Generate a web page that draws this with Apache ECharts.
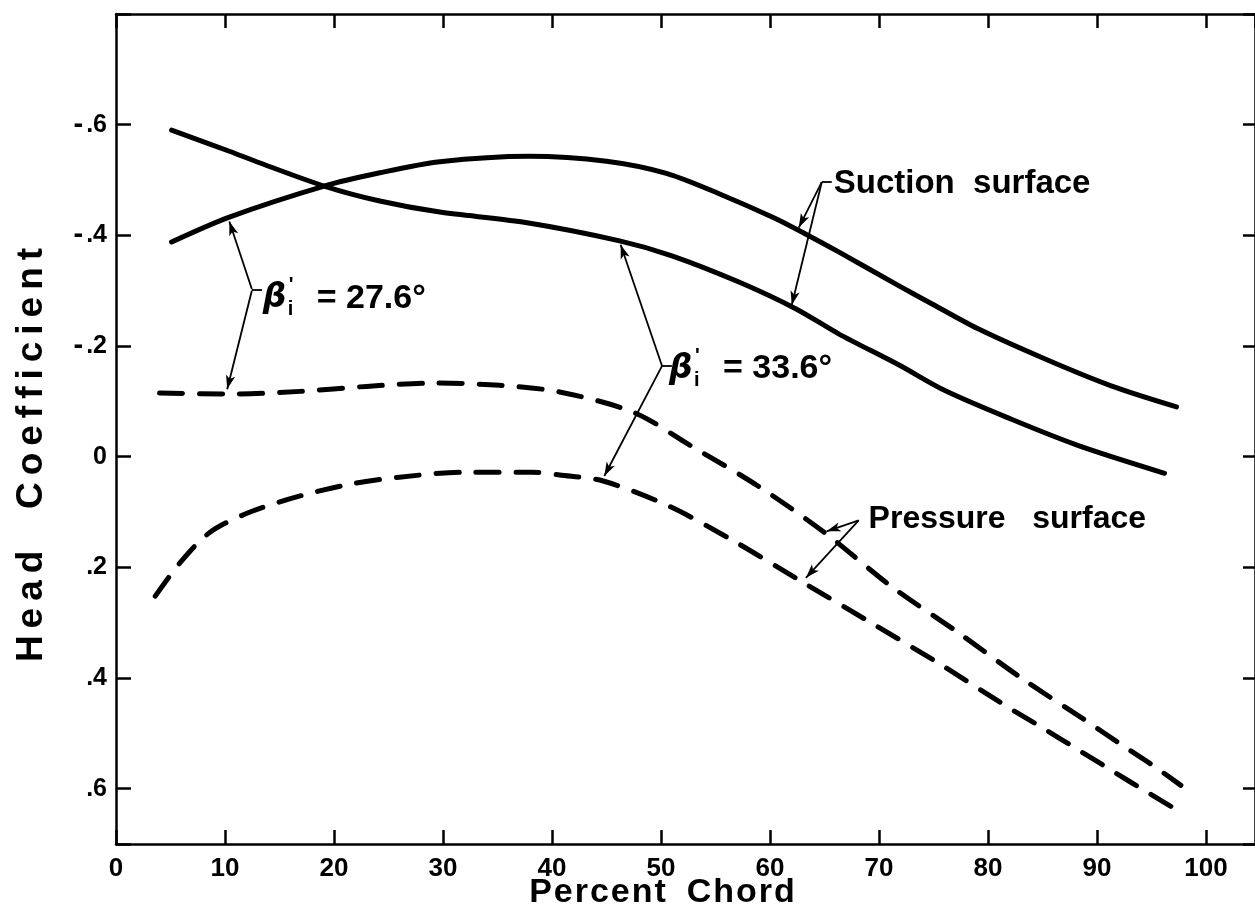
<!DOCTYPE html>
<html><head><meta charset="utf-8">
<script src="https://cdn.jsdelivr.net/npm/echarts@6/dist/echarts.min.js"></script>
<style>html,body{margin:0;padding:0;background:#fff}#c{width:1255px;height:921px}</style>
</head><body><div id="c"></div>
<script>
// ---- data ----
const xTickValues = [0,10,20,30,40,50,60,70,80,90,100];
const xTickLabels = ['0','10','20','30','40','50','60','70','80','90','100'];
const yTickValues = [-0.6,-0.4,-0.2,0,0.2,0.4,0.6];
const yTickLabels = ['-.6','-.4','-.2','0','.2','.4','.6'];

// Suction surface, beta = 27.6 deg
const suc276_x = [5.1,10.4,19.1,24.2,29.7,37.9,45.0,50.5,55.6,60.2,63.3,66.3,71.8,74.5,79.1,85.3,91.3,97.3];
const suc276_y = [-0.388,-0.433,-0.489,-0.513,-0.533,-0.543,-0.534,-0.512,-0.473,-0.433,-0.402,-0.370,-0.309,-0.280,-0.231,-0.176,-0.128,-0.090];
// Suction surface, beta = 33.6 deg
const suc336_x = [5.1,10.4,12.9,19.1,24.2,29.7,37.3,46.2,51.0,57.1,62.4,66.3,71.8,76.1,82.1,88.3,96.2];
const suc336_y = [-0.590,-0.552,-0.533,-0.489,-0.462,-0.442,-0.424,-0.390,-0.363,-0.316,-0.267,-0.222,-0.166,-0.119,-0.068,-0.020,0.030];
// Pressure surface, beta = 27.6 deg
const pre276_x = [4.0,10.7,16.9,23.0,29.0,35.2,40.7,47.5,52.8,58.9,65.0,71.1,77.2,83.2,88.9,92.2,95.2,97.7];
const pre276_y = [-0.115,-0.113,-0.118,-0.127,-0.133,-0.129,-0.117,-0.080,-0.019,0.053,0.137,0.234,0.317,0.402,0.476,0.520,0.559,0.594];
// Pressure surface, beta = 33.6 deg
const pre336_x = [3.6,5.9,8.6,12.3,16.9,21.4,26.0,32.1,38.2,40.7,44.7,50.8,56.9,63.0,69.0,75.2,81.2,84.9,88.3,91.5,94.5,97.3];
const pre336_y = [0.252,0.191,0.137,0.100,0.071,0.050,0.037,0.028,0.028,0.033,0.044,0.090,0.155,0.227,0.297,0.370,0.445,0.489,0.530,0.569,0.605,0.638];

// annotation leaders [fromX, fromY, toX, toY] in data units
const arrows = [
  [12.46,-0.303,10.4,-0.425],
  [12.46,-0.300,10.2,-0.122],
  [50.1,-0.164,46.3,-0.383],
  [50.1,-0.164,44.8,0.035],
  [64.75,-0.496,62.64,-0.414],
  [64.75,-0.496,62.0,-0.274],
  [68.14,0.115,65.2,0.135],
  [68.14,0.115,63.3,0.219]
];
const brackets = [
  [12.46,-0.302,13.4,-0.302],
  [50.1,-0.164,51.0,-0.164],
  [64.75,-0.496,65.67,-0.496]
];
const textLabels = [
  {x:65.85, y:-0.493, text:'Suction  surface', size:33},
  {x:69.05, y:0.113, text:'Pressure   surface', size:32}
];
const betaLabels = [
  {x:13.46, y:-0.290, value:'27.6'},
  {x:50.74, y:-0.162, value:'33.6'}
];

// ---- chart ----
const FONT = '"Liberation Sans", Arial, sans-serif';
const chart = echarts.init(document.getElementById('c'));

function pairs(xs, ys){ return xs.map((x,i)=>[x, ys[i]]); }
function spaced(s, key){
  return s.split('').map(c => c === ' ' ? '{' + key + 's| }' : '{' + key + '|' + c + '}').join('');
}

const solidStyle = {color:'#000', width:5, cap:'round', join:'round', type:'solid'};
const dashStyle = {color:'#000', width:5, cap:'round', join:'round', type:[23,17]};

const markLineData = [];
arrows.forEach(a => markLineData.push([{coord:[a[0],a[1]], symbol:'none'},{coord:[a[2],a[3]], symbol:'arrow'}]));
brackets.forEach(b => markLineData.push([{coord:[b[0],b[1]], symbol:'none'},{coord:[b[2],b[3]], symbol:'none'}]));

function xFmt(v){
  const i = xTickValues.findIndex(t => Math.abs(t - v) < 1e-6);
  return i >= 0 ? xTickLabels[i] : '';
}
function yFmt(v){
  const i = yTickValues.findIndex(t => Math.abs(t - v) < 1e-6);
  if (i < 0) return '';
  const s = yTickLabels[i];
  if (s[0] === '-') return '{h|-}{n|' + s.slice(1) + '}';
  return '{n|' + s + '}';
}

const axisCommon = {
  type:'value', min:0, max:104.5, interval:10,
  splitLine:{show:false},
  axisLine:{show:true, onZero:false, lineStyle:{color:'#000', width:2.5}},
  axisTick:{show:true, inside:true, length:14, lineStyle:{color:'#000', width:2.5}}
};
const yCommon = {
  type:'value', min:-0.8, max:0.7, interval:0.2, inverse:true,
  splitLine:{show:false},
  axisLine:{show:true, onZero:false, lineStyle:{color:'#000', width:2.5}},
  axisTick:{show:true, inside:true, length:15, lineStyle:{color:'#000', width:2.5}}
};

const labelRich = {
  h:{fontFamily:FONT, fontWeight:'bold', fontSize:29, color:'#000', padding:[0,3,0,0]},
  n:{fontFamily:FONT, fontWeight:'bold', fontSize:25, color:'#000'}
};

chart.setOption({
  animation:false,
  backgroundColor:'#fff',
  grid:{left:116, top:14, width:1141, height:830, containLabel:false},
  xAxis:[
    Object.assign({}, axisCommon, {position:'bottom',
      axisLabel:{show:true, margin:12, formatter:xFmt, showMaxLabel:false,
        fontFamily:FONT, fontWeight:'bold', fontSize:26, color:'#000'}}),
    Object.assign({}, axisCommon, {position:'top', axisLabel:{show:false}})
  ],
  yAxis:[
    Object.assign({}, yCommon, {position:'left',
      axisLabel:{show:true, margin:9, formatter:yFmt, rich:labelRich}}),
    Object.assign({}, yCommon, {position:'right', axisLabel:{show:false},
      axisTick:{show:true, inside:true, length:12, lineStyle:{color:'#000', width:2.5}}})
  ],
  series:[
    {type:'line', name:'suction 27.6', data:pairs(suc276_x, suc276_y), symbol:'none', smooth:0.3, silent:true, lineStyle:solidStyle,
      markLine:{silent:true, animation:false, symbolSize:[7,14], label:{show:false},
        lineStyle:{color:'#000', width:1.8, type:'solid'}, emphasis:{disabled:true}, data:markLineData}},
    {type:'line', name:'suction 33.6', data:pairs(suc336_x, suc336_y), symbol:'none', smooth:0.3, silent:true, lineStyle:solidStyle},
    {type:'line', name:'pressure 27.6', data:pairs(pre276_x, pre276_y), symbol:'none', smooth:0.3, silent:true, lineStyle:dashStyle},
    {type:'line', name:'pressure 33.6', data:pairs(pre336_x, pre336_y), symbol:'none', smooth:0.3, silent:true, lineStyle:dashStyle}
  ]
});

// ---- annotations & axis titles ----
const px = (x, y) => chart.convertToPixel({xAxisIndex:0, yAxisIndex:0}, [x, y]);
const graphics = [];

graphics.push({type:'text', x:32, y:455, rotation:Math.PI/2, silent:true,
  style:{text:spaced('Head  Coefficient','t'), align:'center', verticalAlign:'middle',
    rich:{t:{fontFamily:FONT, fontWeight:'bold', fontSize:37, color:'#000', padding:[0,3.5,0,3.5]},
          ts:{fontFamily:FONT, fontWeight:'bold', fontSize:37, color:'#000', padding:[0,3.5,0,3.5]}}}});
graphics.push({type:'text', x:662, y:893, silent:true,
  style:{text:spaced('Percent  Chord','p'), align:'center', verticalAlign:'middle',
    rich:{p:{fontFamily:FONT, fontWeight:'bold', fontSize:34, color:'#000', padding:[0,1,0,1]},
          ps:{fontFamily:FONT, fontWeight:'bold', fontSize:34, color:'#000'}}}});

textLabels.forEach(l => {
  const p = px(l.x, l.y);
  graphics.push({type:'text', x:p[0], y:p[1], silent:true,
    style:{text:l.text, fill:'#000', font:'bold ' + l.size + 'px ' + FONT, align:'left', verticalAlign:'middle'}});
});

betaLabels.forEach(b => {
  const p = px(b.x, b.y);
  graphics.push({type:'group', x:p[0], y:p[1], silent:true, children:[
    {type:'text', x:0, y:2, style:{text:'β', fill:'#000', font:'italic bold 33px "DejaVu Sans"', align:'left', verticalAlign:'middle'}},
    {type:'text', x:26, y:-11, style:{text:"'", fill:'#000', font:'bold 20px ' + FONT, align:'left', verticalAlign:'middle'}},
    {type:'text', x:25, y:13, style:{text:'i', fill:'#000', font:'bold 20px ' + FONT, align:'left', verticalAlign:'middle'}},
    {type:'text', x:54, y:2, style:{text:'= ' + b.value + '°', fill:'#000', font:'bold 34px ' + FONT, align:'left', verticalAlign:'middle'}}
  ]});
});

chart.setOption({graphic:graphics});
</script>
</body></html>
